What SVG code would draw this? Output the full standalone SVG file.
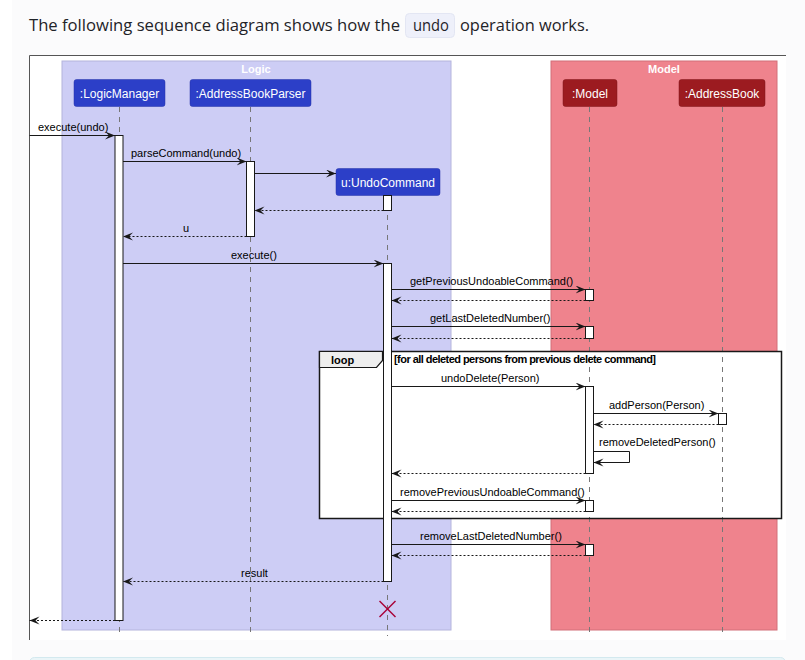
<svg xmlns="http://www.w3.org/2000/svg" width="805" height="660" viewBox="0 0 805 660">
<style>
.page{font-family:"Open Sans","Noto Sans","DejaVu Sans",sans-serif;font-size:17px;fill:#1f2328}
.lbl{font-family:"Liberation Sans",Arial,sans-serif;font-size:11px;fill:#000}
.pt{font-family:"Liberation Sans",Arial,sans-serif;font-size:12px;fill:#fff;text-anchor:middle}
.bt{font-family:"Liberation Sans",Arial,sans-serif;font-size:11px;font-weight:bold;fill:#fff;text-anchor:middle}
.life{stroke:#777;stroke-width:1;stroke-dasharray:5,5;fill:none}
.act{fill:#fff;stroke:#181818;stroke-width:1}
.msg{stroke:#181818;stroke-width:1;fill:none;marker-end:url(#ah)}
.ret{stroke:#181818;stroke-width:1;stroke-dasharray:2,2;fill:none;marker-end:url(#ah)}
.pb{fill:#2c3fc8;stroke:#2433a8;stroke-width:0.5}
.pr{fill:#9c1b20;stroke:#7e1418;stroke-width:0.5}
</style>
<defs>
<marker id="ah" markerUnits="userSpaceOnUse" markerWidth="11" markerHeight="9" refX="10" refY="4" orient="auto">
<path d="M0,0 L10,4 L0,8 L4,4 Z" fill="#181818"/>
</marker>
</defs>
<rect x="0" y="0" width="805" height="660" fill="#ffffff"/>
<rect x="12" y="0" width="793" height="660" fill="#fbfbfc"/>
<g id="heading">
<text class="page" x="29" y="31" textLength="371" lengthAdjust="spacingAndGlyphs">The following sequence diagram shows how the</text>
<rect x="405.5" y="13.5" width="49" height="24" rx="4" fill="#eef0fa" stroke="#e3e6f3"/>
<text class="page" x="413" y="31" font-size="15" textLength="36" lengthAdjust="spacingAndGlyphs">undo</text>
<text class="page" x="460" y="31" textLength="129" lengthAdjust="spacingAndGlyphs">operation works.</text>
</g>
<g id="frame">
<rect x="29" y="55" width="757" height="585" fill="#ffffff"/>
<line x1="29.5" y1="55.5" x2="786" y2="55.5" stroke="#555" stroke-width="1"/>
<line x1="29.5" y1="55.5" x2="29.5" y2="640" stroke="#555" stroke-width="1"/>
</g>
<g id="box-logic">
<rect x="62" y="61" width="389" height="569" fill="#cdcdf5" stroke="#b4b4dc" stroke-width="1"/>
<text class="bt" x="256" y="73" font-size="10">Logic</text>
</g>
<g id="box-model">
<rect x="551" y="61" width="226" height="569" fill="#ef838d" stroke="#d26f78" stroke-width="1"/>
<text class="bt" x="664" y="73" font-size="10">Model</text>
</g>
<g id="loop-bg">
<rect x="319.5" y="351.5" width="462" height="167" fill="#ffffff"/>
</g>
<g id="lifelines">
<line class="life" x1="119.5" y1="107" x2="119.5" y2="636"/>
<line class="life" x1="250.5" y1="107" x2="250.5" y2="636"/>
<line class="life" x1="387.5" y1="195" x2="387.5" y2="636"/>
<line class="life" x1="589.5" y1="107" x2="589.5" y2="636"/>
<line class="life" x1="722.5" y1="107" x2="722.5" y2="636"/>
</g>
<g id="loop">
<rect x="319.5" y="351.5" width="462" height="167" fill="none" stroke="#181818" stroke-width="1.5"/>
<polygon points="319.5,351.5 382.5,351.5 382.5,360.5 376.5,367.5 319.5,367.5" fill="#eeeeee" stroke="#181818" stroke-width="1.2"/>
<text class="lbl" x="331" y="363.5" font-weight="bold">loop</text>
<text class="lbl" x="394" y="362.5" font-size="9" font-weight="bold" textLength="262" lengthAdjust="spacing">[for all deleted persons from previous delete command]</text>
</g>
<g id="logicmanager">
<rect class="pb" x="74" y="79.5" width="91" height="27" rx="2.5"/>
<text class="pt" x="119.5" y="97.5">:LogicManager</text>
<rect class="act" x="115" y="135.5" width="8" height="485"/>
</g>
<g id="addressbookparser">
<rect class="pb" x="190" y="79.5" width="121" height="27" rx="2.5"/>
<text class="pt" x="250.5" y="97.5">:AddressBookParser</text>
<rect class="act" x="246.5" y="161.5" width="8" height="75"/>
</g>
<g id="undocommand">
<rect class="pb" x="336" y="168.5" width="104" height="27" rx="2.5"/>
<text class="pt" x="388" y="187">u:UndoCommand</text>
<rect class="act" x="383.5" y="195.5" width="8" height="15"/>
<rect class="act" x="383.5" y="263.5" width="8" height="318"/>
<g stroke="#a80036" stroke-width="1.5">
<line x1="379.5" y1="601" x2="395.5" y2="617"/>
<line x1="395.5" y1="601" x2="379.5" y2="617"/>
</g>
</g>
<g id="model">
<rect class="pr" x="563" y="79.5" width="54" height="27" rx="2.5"/>
<text class="pt" x="590" y="97.5">:Model</text>
<rect class="act" x="585.5" y="289.5" width="8" height="11"/>
<rect class="act" x="585.5" y="326.5" width="8" height="12"/>
<rect class="act" x="585.5" y="386.5" width="8" height="87"/>
<rect class="act" x="585.5" y="500.5" width="8" height="11"/>
<rect class="act" x="585.5" y="544.5" width="8" height="11"/>
</g>
<g id="addressbook">
<rect class="pr" x="679" y="79.5" width="86" height="27" rx="2.5"/>
<text class="pt" x="722" y="97.5">:AddressBook</text>
<rect class="act" x="718.5" y="413.5" width="8" height="11"/>
</g>
<g id="connectors">
<line class="msg" x1="29.5" y1="135.5" x2="115" y2="135.5"/>
<text class="lbl" x="38" y="130.5">execute(undo)</text>
<line class="msg" x1="123" y1="161.5" x2="246.5" y2="161.5"/>
<text class="lbl" x="131" y="157">parseCommand(undo)</text>
<line class="msg" x1="254.5" y1="173.5" x2="336" y2="173.5"/>
<line class="ret" x1="383.5" y1="210.5" x2="254.5" y2="210.5"/>
<line class="ret" x1="246.5" y1="236.5" x2="123" y2="236.5"/>
<text class="lbl" x="183" y="232">u</text>
<line class="msg" x1="123" y1="263.5" x2="383.5" y2="263.5"/>
<text class="lbl" x="231" y="258.5">execute()</text>
<line class="msg" x1="391.5" y1="289.5" x2="585.5" y2="289.5"/>
<text class="lbl" x="410" y="285">getPreviousUndoableCommand()</text>
<line class="ret" x1="585.5" y1="300.5" x2="391.5" y2="300.5"/>
<line class="msg" x1="391.5" y1="326.5" x2="585.5" y2="326.5"/>
<text class="lbl" x="430" y="322">getLastDeletedNumber()</text>
<line class="ret" x1="585.5" y1="338.5" x2="391.5" y2="338.5"/>
<line class="msg" x1="391.5" y1="386.5" x2="585.5" y2="386.5"/>
<text class="lbl" x="441" y="382">undoDelete(Person)</text>
<line class="msg" x1="593.5" y1="413.5" x2="718.5" y2="413.5"/>
<text class="lbl" x="609" y="409">addPerson(Person)</text>
<line class="ret" x1="718.5" y1="424.5" x2="593.5" y2="424.5"/>
<polyline class="msg" points="593.5,451.5 629.5,451.5 629.5,462.5 593.5,462.5"/>
<text class="lbl" x="599" y="446">removeDeletedPerson()</text>
<line class="ret" x1="585.5" y1="473.5" x2="391.5" y2="473.5"/>
<line class="msg" x1="391.5" y1="500.5" x2="585.5" y2="500.5"/>
<text class="lbl" x="400" y="496">removePreviousUndoableCommand()</text>
<line class="ret" x1="585.5" y1="511.5" x2="391.5" y2="511.5"/>
<line class="msg" x1="391.5" y1="544.5" x2="585.5" y2="544.5"/>
<text class="lbl" x="420" y="540">removeLastDeletedNumber()</text>
<line class="ret" x1="585.5" y1="555.5" x2="391.5" y2="555.5"/>
<line class="ret" x1="383.5" y1="581.5" x2="123" y2="581.5"/>
<text class="lbl" x="241" y="577">result</text>
<line class="ret" x1="115" y1="620.5" x2="29.5" y2="620.5"/>
</g>
<g id="note-box">
<rect x="29.5" y="657.5" width="756" height="20" rx="5" fill="#eaf5f8" stroke="#d3e9ef"/>
</g>
</svg>
